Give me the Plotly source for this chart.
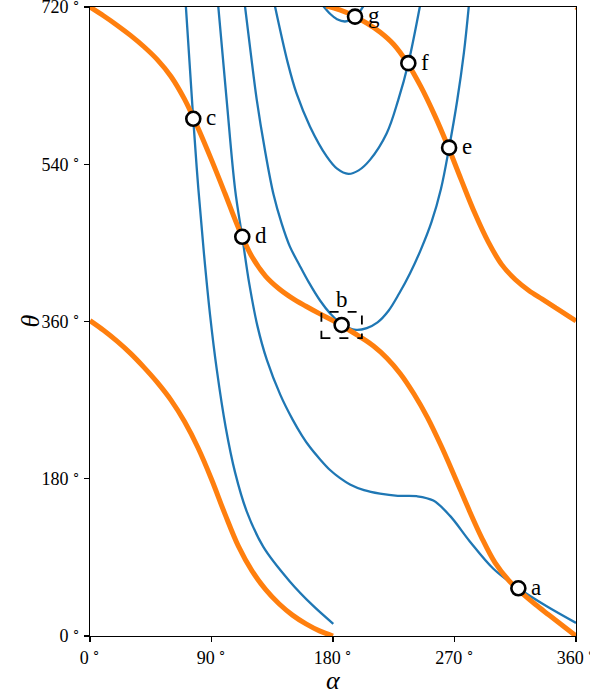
import plotly.graph_objects as go

# ---------------- data (alpha, theta in degrees) ----------------
orange1_alpha = [0, 10, 20, 30, 40, 50, 60, 70, 80, 90, 100, 110, 120, 130, 140, 150, 160, 170, 180]
orange1_theta = [361, 350, 337.5, 323.5, 307.5, 290, 270, 245.5, 215.5, 179.5, 139.5, 102.5, 74.5,
                 53.4, 36.9, 23.9, 13.9, 5.9, 0]

orange2_alpha = [0, 10, 20, 30, 40, 50, 60, 70, 80, 90, 100, 110, 120, 130, 140, 150, 160, 170, 180,
                 190, 200, 210, 220, 230, 240, 250, 260, 270, 280, 290, 300, 310, 320, 330, 340, 350, 360]
orange2_theta = [720, 710, 699.2, 687.5, 674.5, 659.5, 640.5, 614.5, 581.5, 545, 506.5, 467, 434, 412,
                 397.5, 386.5, 377.5, 369, 361, 352, 342.5, 332, 318, 300, 277, 250, 218, 183, 147, 113,
                 84, 64, 49, 36, 24, 12, 0]

orange3_alpha = [175, 185, 195, 205, 215, 225, 235, 245, 255, 265, 275, 285, 295, 305, 315, 325, 335,
                 345, 355, 360]
orange3_theta = [721, 716.6, 710.1, 701.6, 691.1, 677.1, 656.1, 629.1, 597.1, 561.1, 522.1, 484.1,
                 451.1, 425.1, 408.1, 395.6, 385.6, 375.6, 365.6, 360.6]

orange4_alpha = [360, 376]
orange4_theta = [720, 703]

blueA_alpha = [71, 76.5, 80.2, 84.4, 88.9, 94, 100.5, 107.5, 116, 128.4, 148, 165, 180.2]
blueA_theta = [721, 591, 513, 438, 368, 304, 239, 187, 143, 102, 62.5, 35, 14]

blueC_alpha = [95, 101.2, 107.5, 112.8, 118, 124, 131, 141, 150, 157, 163, 170, 177.8, 185, 192.6,
               203, 214.8, 228, 242, 254.3, 266.7, 281.5, 298.8, 317.3, 338.3, 360]
blueC_theta = [721, 614, 511, 456.5, 403, 355, 316, 276, 248, 229.5, 216, 203, 190, 181, 173.5,
               167, 163, 160.5, 160, 155, 137.5, 108, 77, 54.6, 34, 15]

blueD_alpha = [114.8, 119, 123.5, 129.6, 136, 142, 148, 155, 162, 170.4, 178, 186.4, 197, 205, 213,
               221, 229, 237, 245, 253, 260, 266, 272, 277, 280.6]
blueD_theta = [721, 668, 614, 556, 505, 472, 446, 425, 405, 384, 369, 357, 350.5, 352.5, 359,
               372, 392, 415, 442, 474, 512, 559, 613, 668, 721]

blueE_alpha = [137, 146.5, 153, 163, 175.3, 183, 191.4, 199, 207.4, 219.8, 228.4, 235.8, 244.4]
blueE_theta = [721, 656, 621, 583, 549, 535, 529, 533, 545, 575.5, 614, 655.7, 721]

blueF_alpha = [172.8, 178, 183, 188.9, 194, 196.3, 198.5, 202.5]
blueF_theta = [721, 712, 706, 703.4, 706, 709, 712, 721]

point_labels = ["a", "b", "c", "d", "e", "f", "g"]
point_alpha = [317.3, 186.4, 76.5, 112.8, 266, 235.8, 196.3]
point_theta = [54.6, 356, 592, 457, 559, 655.7, 709]

box_half = [15, 15]  # half-size (deg) of dashed box around point b

x_ticks = [0, 90, 180, 270, 360]
y_ticks = [0, 180, 360, 540, 720]

# ---------------- figure ----------------
ORANGE = "#ff7f0e"
BLUE = "#1f77b4"
FONT = "Liberation Serif"

fig = go.Figure()

for xa, ya in [(blueA_alpha, blueA_theta), (blueC_alpha, blueC_theta), (blueD_alpha, blueD_theta),
               (blueE_alpha, blueE_theta), (blueF_alpha, blueF_theta)]:
    fig.add_trace(go.Scatter(x=xa, y=ya, mode="lines",
                             line=dict(color=BLUE, width=2.3, shape="spline", smoothing=1.0),
                             hoverinfo="skip", showlegend=False))

for xa, ya in [(orange1_alpha, orange1_theta), (orange2_alpha, orange2_theta),
               (orange3_alpha, orange3_theta), (orange4_alpha, orange4_theta)]:
    fig.add_trace(go.Scatter(x=xa, y=ya, mode="lines",
                             line=dict(color=ORANGE, width=5, shape="spline", smoothing=1.0),
                             hoverinfo="skip", showlegend=False))

fig.add_trace(go.Scatter(x=point_alpha, y=point_theta, mode="markers",
                         marker=dict(size=14, color="white", line=dict(color="black", width=2.6)),
                         hoverinfo="skip", showlegend=False, cliponaxis=False))

for lab, xa, ya in zip(point_labels, point_alpha, point_theta):
    if lab == "b":
        fig.add_annotation(x=xa, y=ya, text=lab, showarrow=False, xanchor="center", yanchor="middle",
                           yshift=25, font=dict(family=FONT, size=23, color="black"))
    else:
        fig.add_annotation(x=xa, y=ya, text=lab, showarrow=False, xanchor="left", yanchor="middle",
                           xshift=11, yshift=1, font=dict(family=FONT, size=23, color="black"))

b_idx = point_labels.index("b")
fig.add_shape(type="rect", xref="x", yref="y",
              x0=point_alpha[b_idx] - box_half[0], x1=point_alpha[b_idx] + box_half[0],
              y0=point_theta[b_idx] - box_half[1], y1=point_theta[b_idx] + box_half[1],
              line=dict(color="black", width=1.8, dash="dash"), layer="above")

# axis titles as annotations for exact placement
fig.add_annotation(xref="paper", yref="paper", x=0.5, y=0, yshift=-44, text="<i>α</i>",
                   showarrow=False, xanchor="center", yanchor="middle",
                   font=dict(family=FONT, size=26, color="black"))
fig.add_annotation(xref="paper", yref="paper", x=0, y=0.5, xshift=-60, text="<i>θ</i>",
                   showarrow=False, xanchor="center", yanchor="middle", textangle=-90,
                   font=dict(family=FONT, size=26, color="black"))

axis_common = dict(showgrid=False, zeroline=False, showline=True, linecolor="black", linewidth=1.2,
                   mirror=True, ticks="outside", ticklen=5, tickwidth=1.1, tickcolor="black",
                   tickfont=dict(family=FONT, size=18), automargin=False,
                   ticklabeloverflow="allow")

fig.update_layout(
    width=590, height=696,
    margin=dict(l=90, r=14, t=7, b=60, autoexpand=False),
    plot_bgcolor="white", paper_bgcolor="white",
    font=dict(family=FONT, color="black"),
    xaxis=dict(range=[0, 360], tickvals=x_ticks,
               ticktext=[f"{v}\u2009<sup>∘</sup>" for v in x_ticks], **axis_common),
    yaxis=dict(range=[0, 720], tickvals=y_ticks,
               ticktext=[f"{v}\u2009<sup>∘</sup>" for v in y_ticks], **axis_common),
)

fig.write_html("out.html", config={"displayModeBar": False, "staticPlot": True},
               post_script="document.body.style.margin='0';document.body.style.overflow='hidden';")
